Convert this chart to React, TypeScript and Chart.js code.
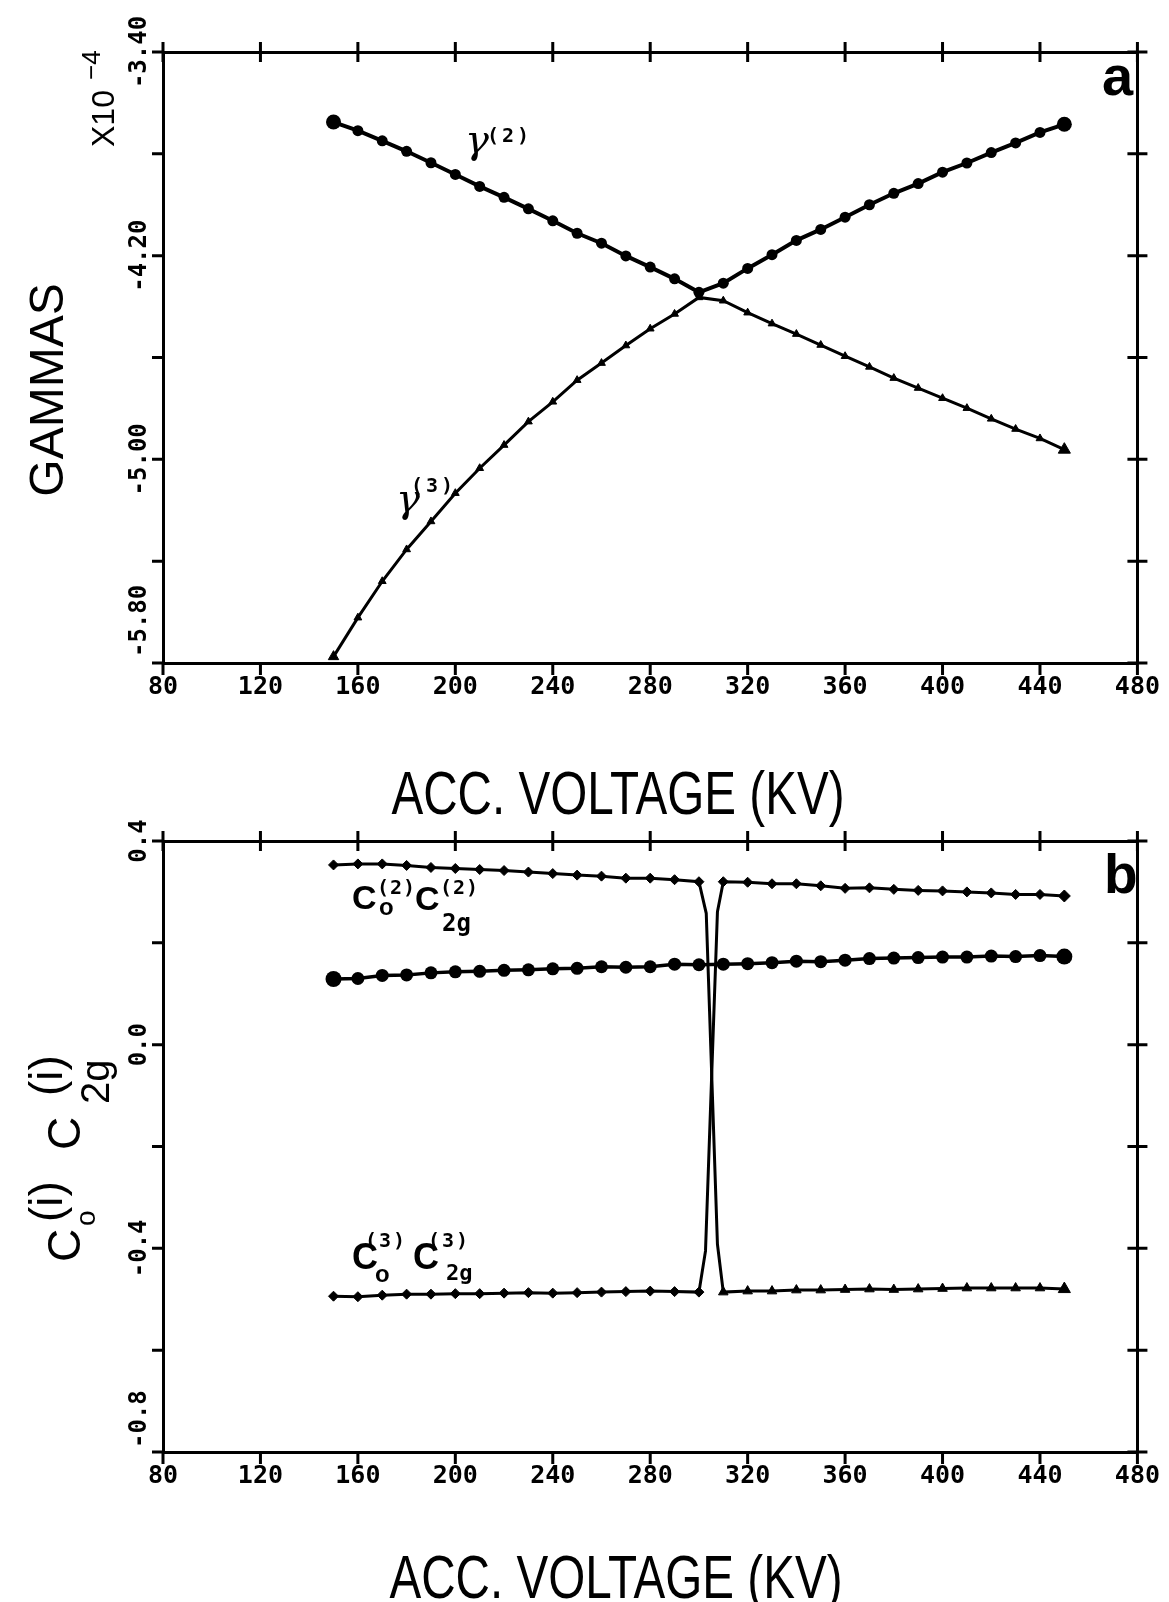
import React, { useEffect, useRef } from 'react';
import { Chart, registerables } from 'chart.js';

Chart.register(...registerables);

const W = 1169;
const H = 1602;

// ---------- Panel a : GAMMAS (x10^-4) vs ACC. VOLTAGE (KV)
const KV = [150, 160, 170, 180, 190, 200, 210, 220, 230, 240, 250, 260, 270, 280, 290, 300, 310, 320, 330, 340, 350, 360, 370, 380, 390, 400, 410, 420, 430, 440, 450];
const GAMMA2 = [-3.675, -3.709, -3.749, -3.790, -3.835, -3.881, -3.928, -3.971, -4.016, -4.063, -4.112, -4.151, -4.201, -4.245, -4.291, -4.344, -4.308, -4.250, -4.196, -4.140, -4.097, -4.049, -4.000, -3.955, -3.917, -3.872, -3.836, -3.795, -3.757, -3.716, -3.684];
const GAMMA3 = [-5.775, -5.622, -5.479, -5.354, -5.244, -5.133, -5.035, -4.944, -4.852, -4.774, -4.689, -4.622, -4.553, -4.487, -4.429, -4.364, -4.377, -4.424, -4.467, -4.508, -4.551, -4.595, -4.637, -4.681, -4.720, -4.760, -4.799, -4.841, -4.881, -4.918, -4.962];

// ---------- Panel b : C_o^(i) C_2g^(i) vs ACC. VOLTAGE (KV)
const C2_KV = [150, 160, 170, 180, 190, 200, 210, 220, 230, 240, 250, 260, 270, 280, 290, 300, 303, 307.6, 310, 320, 330, 340, 350, 360, 370, 380, 390, 400, 410, 420, 430, 440, 450];
const C2 = [0.353, 0.355, 0.355, 0.352, 0.348, 0.346, 0.344, 0.342, 0.339, 0.336, 0.333, 0.331, 0.327, 0.327, 0.324, 0.320, 0.258, -0.392, -0.486, -0.484, -0.484, -0.482, -0.482, -0.481, -0.480, -0.481, -0.480, -0.479, -0.478, -0.478, -0.478, -0.478, -0.480];
const C3_KV = [150, 160, 170, 180, 190, 200, 210, 220, 230, 240, 250, 260, 270, 280, 290, 300, 302.7, 307.6, 310, 320, 330, 340, 350, 360, 370, 380, 390, 400, 410, 420, 430, 440, 450];
const C3 = [-0.494, -0.495, -0.492, -0.490, -0.490, -0.489, -0.489, -0.488, -0.487, -0.488, -0.487, -0.486, -0.485, -0.484, -0.485, -0.486, -0.405, 0.261, 0.320, 0.319, 0.316, 0.316, 0.312, 0.307, 0.308, 0.305, 0.303, 0.302, 0.300, 0.298, 0.295, 0.295, 0.292];
const CIRC = [0.129, 0.130, 0.136, 0.137, 0.141, 0.143, 0.144, 0.146, 0.147, 0.149, 0.150, 0.153, 0.152, 0.153, 0.158, 0.157, 0.158, 0.159, 0.161, 0.164, 0.163, 0.166, 0.169, 0.170, 0.171, 0.172, 0.172, 0.174, 0.173, 0.175, 0.173];

// ---------- ticks
const X_TICKS = [80, 120, 160, 200, 240, 280, 320, 360, 400, 440, 480];
const YA_TICKS = [-5.8, -5.4, -5.0, -4.6, -4.2, -3.8, -3.4];
const YA_LABELS = ['-5.80', '', '-5.00', '', '-4.20', '', '-3.40'];
const YB_TICKS = [-0.8, -0.6, -0.4, -0.2, 0.0, 0.2, 0.4];
const YB_LABELS = ['-0.8', '', '-0.4', '', '0.0', '', '0.4'];

const INK = '#000';
const MONO = '"DejaVu Sans Mono", monospace';
const SANS = '"Liberation Sans", Arial, sans-serif';

function text(ctx: CanvasRenderingContext2D, s: string, x: number, y: number, font: string, align: CanvasTextAlign = 'left', ls = '0px') {
  ctx.save();
  ctx.font = font;
  (ctx as any).letterSpacing = ls;
  ctx.fillStyle = INK;
  ctx.textAlign = align;
  ctx.textBaseline = 'alphabetic';
  ctx.fillText(s, x, y);
  ctx.restore();
}

// rotated -90deg text: X is the baseline position (page x), Y the anchor along the page y
function rotText(ctx: CanvasRenderingContext2D, s: string, X: number, Y: number, font: string, align: CanvasTextAlign = 'left') {
  ctx.save();
  ctx.rotate(-Math.PI / 2);
  ctx.font = font;
  ctx.fillStyle = INK;
  ctx.textAlign = align;
  ctx.textBaseline = 'alphabetic';
  ctx.fillText(s, -Y, X);
  ctx.restore();
}

function condensed(ctx: CanvasRenderingContext2D, s: string, cx: number, by: number, font: string, sx: number) {
  ctx.save();
  ctx.translate(cx, by);
  ctx.scale(sx, 1);
  ctx.font = font;
  ctx.fillStyle = INK;
  ctx.textAlign = 'center';
  ctx.textBaseline = 'alphabetic';
  ctx.fillText(s, 0, 0);
  ctx.restore();
}

function drawTicks(chart: any) {
  const { ctx, chartArea: { left, right, top, bottom }, scales } = chart;
  ctx.save();
  ctx.strokeStyle = INK;
  ctx.lineWidth = 3;
  ctx.beginPath();
  for (const t of scales.x.ticks) {
    const px = scales.x.getPixelForValue(t.value);
    ctx.moveTo(px, top - 10); ctx.lineTo(px, top + 10);
    ctx.moveTo(px, bottom); ctx.lineTo(px, bottom + 12);
  }
  for (const t of scales.y.ticks) {
    const py = scales.y.getPixelForValue(t.value);
    ctx.moveTo(left - 11, py); ctx.lineTo(left, py);
    ctx.moveTo(right - 10, py); ctx.lineTo(right + 10, py);
  }
  ctx.stroke();
  ctx.restore();
}

function drawYLabels(chart: any, values: number[], labels: string[], lowOffset: number) {
  const { ctx, chartArea: { left }, scales } = chart;
  values.forEach((v, i) => {
    const lab = labels[i];
    if (!lab) return;
    const py = scales.y.getPixelForValue(v);
    if (i === 0) rotText(ctx, lab, left - 17, py - lowOffset, `bold 24px ${MONO}`, 'left');
    else rotText(ctx, lab, left - 17, py, `bold 24px ${MONO}`, 'center');
  });
}

const decorA = {
  id: 'decorA',
  afterDraw(chart: any) {
    const ctx = chart.ctx as CanvasRenderingContext2D;
    drawTicks(chart);
    drawYLabels(chart, YA_TICKS, YA_LABELS, 6);
    // axis titles
    rotText(ctx, 'GAMMAS', 63, 390, `48px ${SANS}`, 'center');
    rotText(ctx, 'X10', 114, 147, `32px ${SANS}`, 'left');
    rotText(ctx, '\u22124', 100, 80, `26px ${SANS}`, 'left');
    condensed(ctx, 'ACC. VOLTAGE (KV)', 618, 814, `61px ${SANS}`, 0.78);
    // series labels
    text(ctx, '\u03b3', 465, 153, `italic 40px "DejaVu Serif", serif`);
    text(ctx, '(2)', 487, 142, `bold 20px ${MONO}`, 'left', '3px');
    text(ctx, '\u03b3', 396, 512, `italic 40px "DejaVu Serif", serif`);
    text(ctx, '(3)', 411, 492, `bold 20px ${MONO}`, 'left', '3px');
    text(ctx, 'a', 1102, 95, `bold 56px ${SANS}`);
  },
};

const decorB = {
  id: 'decorB',
  afterDraw(chart: any) {
    const ctx = chart.ctx as CanvasRenderingContext2D;
    drawTicks(chart);
    drawYLabels(chart, YB_TICKS, YB_LABELS, 4);
    // y title: C_o^(i) C_2g^(i)
    rotText(ctx, 'C', 80, 1262, `46px ${SANS}`);
    rotText(ctx, 'o', 95, 1226, `28px ${SANS}`);
    rotText(ctx, '(i)', 62, 1222, `46px ${SANS}`);
    rotText(ctx, 'C', 80, 1150, `46px ${SANS}`);
    rotText(ctx, '(i)', 62, 1096, `46px ${SANS}`);
    rotText(ctx, '2g', 109, 1104, `40px ${SANS}`);
    condensed(ctx, 'ACC. VOLTAGE (KV)', 616, 1598, `61px ${SANS}`, 0.78);
    // series labels
    text(ctx, 'C', 352, 909, `bold 34px ${SANS}`);
    text(ctx, '(2)', 377, 894, `bold 20px ${MONO}`, 'left', '1px');
    text(ctx, 'o', 379, 915, `bold 24px ${SANS}`);
    text(ctx, 'C', 415, 910, `bold 34px ${SANS}`);
    text(ctx, '(2)', 440, 894, `bold 20px ${MONO}`, 'left', '1px');
    text(ctx, '2g', 442, 931, `bold 24px ${MONO}`);

    text(ctx, 'C', 352, 1269, `bold 36px ${SANS}`);
    text(ctx, '(3)', 365, 1247, `bold 20px ${MONO}`, 'left', '2px');
    text(ctx, 'o', 375, 1282, `bold 24px ${SANS}`);
    text(ctx, 'C', 413, 1269, `bold 36px ${SANS}`);
    text(ctx, '(3)', 428, 1247, `bold 20px ${MONO}`, 'left', '2px');
    text(ctx, '2g', 446, 1280, `bold 22px ${MONO}`);

    text(ctx, 'b', 1104, 893, `bold 55px ${SANS}`);
  },
};

function scalesFor(yMin: number, yMax: number, yTicks: number[]) {
  const border = { display: true, color: INK, width: 3 };
  const noGrid = { display: false, drawTicks: false };
  return {
    x: {
      type: 'linear', position: 'bottom', min: 80, max: 480,
      afterBuildTicks: (s: any) => { s.ticks = X_TICKS.map((v) => ({ value: v })); },
      ticks: { autoSkip: false, maxRotation: 0, minRotation: 0, color: INK, padding: 9, font: { family: MONO, weight: 'bold', size: 25 }, callback: (v: any) => String(v) },
      grid: noGrid, border,
      afterFit: (s: any) => { s.height = 40; },
    },
    x2: {
      type: 'linear', position: 'top', min: 80, max: 480,
      ticks: { display: false }, grid: noGrid, border,
      afterFit: (s: any) => { s.height = 0; },
    },
    y: {
      type: 'linear', position: 'left', min: yMin, max: yMax,
      afterBuildTicks: (s: any) => { s.ticks = yTicks.map((v) => ({ value: v })); },
      ticks: { display: false }, grid: noGrid, border,
      afterFit: (s: any) => { s.width = 0; },
    },
    y2: {
      type: 'linear', position: 'right', min: yMin, max: yMax,
      ticks: { display: false }, grid: noGrid, border,
      afterFit: (s: any) => { s.width = 0; },
    },
  };
}

const LEFT = 163;
const RIGHT = 1141;

function configA(): any {
  const last = KV.length - 1;
  return {
    type: 'line',
    data: {
      datasets: [
        {
          label: '\u03b3(2)',
          data: KV.map((x, i) => ({ x, y: GAMMA2[i] })),
          borderColor: INK, backgroundColor: INK, borderWidth: 4, tension: 0,
          pointStyle: 'circle',
          pointRadius: KV.map((_, i) => (i === 0 || i === last ? 7.5 : 5.5)),
          pointBorderWidth: 0,
        },
        {
          label: '\u03b3(3)',
          data: KV.map((x, i) => ({ x, y: GAMMA3[i] })),
          borderColor: INK, backgroundColor: INK, borderWidth: 3, tension: 0,
          pointStyle: 'triangle',
          pointRadius: KV.map((_, i) => (i === last ? 7 : i === 0 ? 6 : 4.5)),
          pointBorderWidth: 1,
        },
      ],
    },
    options: {
      animation: false, responsive: false, devicePixelRatio: 1,
      layout: { padding: { left: LEFT, right: W - RIGHT, top: 52, bottom: H - 663 - 40 } },
      plugins: { legend: { display: false }, tooltip: { enabled: false }, title: { display: false } },
      scales: scalesFor(-5.8, -3.4, YA_TICKS),
    },
    plugins: [decorA],
  };
}

function configB(): any {
  const lastC = C2_KV.length - 1;
  return {
    type: 'line',
    data: {
      datasets: [
        {
          label: 'C(2)C(2)',
          data: C2_KV.map((x, i) => ({ x, y: C2[i] })),
          borderColor: INK, backgroundColor: INK, borderWidth: 3, tension: 0,
          pointStyle: C2_KV.map((_, i) => (i < 16 ? 'rectRot' : 'triangle')),
          pointRadius: C2_KV.map((_, i) => (i === 16 || i === 17 ? 0 : i === lastC ? 7 : i < 16 ? 5 : 5.5)),
          pointBorderWidth: 1,
        },
        {
          label: 'circles',
          data: KV.map((x, i) => ({ x, y: CIRC[i] })),
          borderColor: INK, backgroundColor: INK, borderWidth: 3.5, tension: 0,
          pointStyle: 'circle',
          pointRadius: KV.map((_, i) => (i === 0 || i === KV.length - 1 ? 8 : 6.5)),
          pointBorderWidth: 0,
        },
        {
          label: 'C(3)C(3)',
          data: C3_KV.map((x, i) => ({ x, y: C3[i] })),
          borderColor: INK, backgroundColor: INK, borderWidth: 3, tension: 0,
          pointStyle: 'rectRot',
          pointRadius: C3_KV.map((_, i) => (i === 16 || i === 17 ? 0 : i === lastC ? 6 : 5)),
          pointBorderWidth: 1,
        },
      ],
    },
    options: {
      animation: false, responsive: false, devicePixelRatio: 1,
      layout: { padding: { left: LEFT, right: W - RIGHT, top: 841, bottom: H - 1452 - 40 } },
      plugins: { legend: { display: false }, tooltip: { enabled: false }, title: { display: false } },
      scales: scalesFor(-0.8, 0.4, YB_TICKS),
    },
    plugins: [decorB],
  };
}

export default function App() {
  const refA = useRef<HTMLCanvasElement>(null);
  const refB = useRef<HTMLCanvasElement>(null);
  useEffect(() => {
    const a = new Chart(refA.current as HTMLCanvasElement, configA());
    const b = new Chart(refB.current as HTMLCanvasElement, configB());
    return () => {
      a.destroy();
      b.destroy();
    };
  }, []);
  return (
    <div style={{ position: 'absolute', left: 0, top: 0, width: W, height: H, background: '#fff', overflow: 'hidden' }}>
      <canvas ref={refA} width={W} height={H} style={{ position: 'absolute', left: 0, top: 0 }} />
      <canvas ref={refB} width={W} height={H} style={{ position: 'absolute', left: 0, top: 0 }} />
    </div>
  );
}
